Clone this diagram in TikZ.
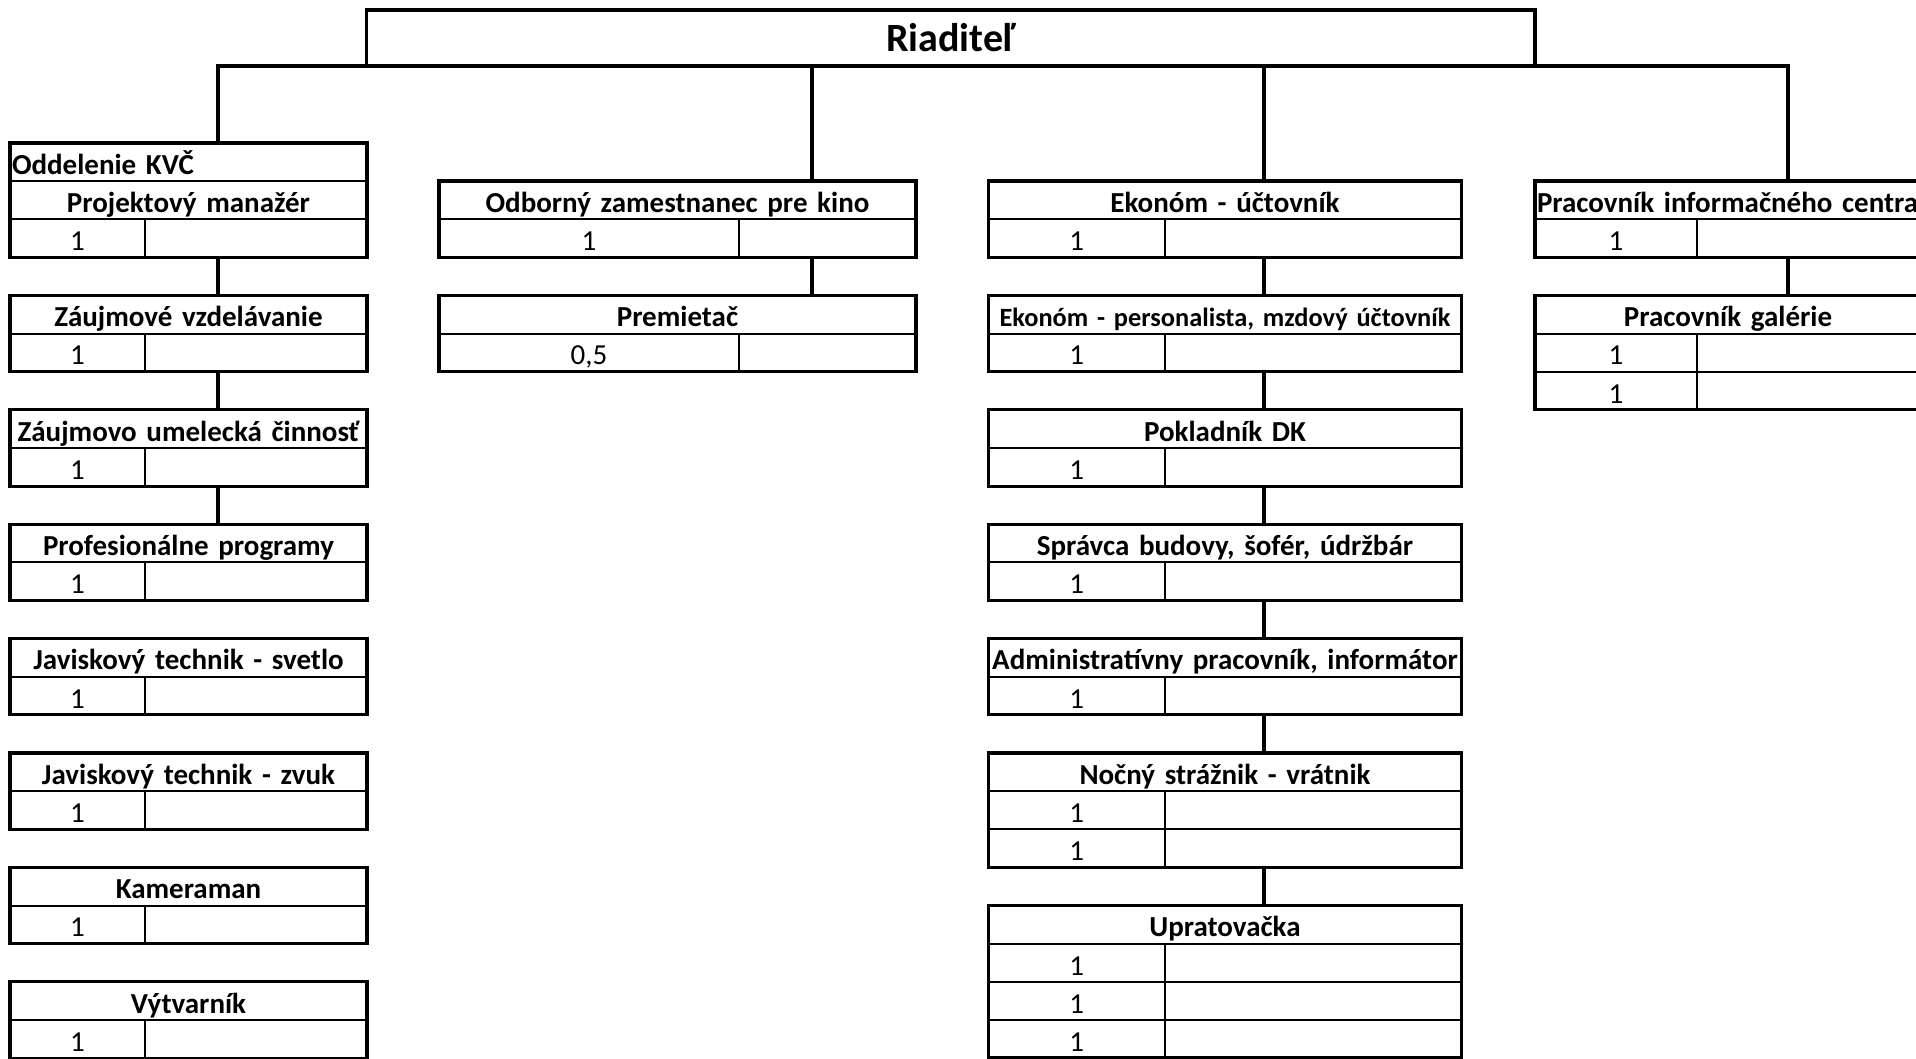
\documentclass[tikz,border=0pt]{standalone}
\usepackage{fontspec}
\setmainfont{Carlito}
\begin{document}
\begin{tikzpicture}
	\useasboundingbox (0,0) rectangle (19.16,-10.58);
	\tikzstyle{cell}=[rectangle, draw=black, line width=0.55pt, anchor=north west, minimum height=0.3813cm, inner sep=0pt, outer sep=0pt, text height=0.7em, text depth=0pt, font=\fontsize{8.25}{10}\selectfont]
	\tikzstyle{head}=[cell, align=center, font=\fontsize{8.25}{10}\selectfont\bfseries]
	\tikzstyle{boss}=[rectangle, draw=black, line width=0.9pt, minimum width=11.684cm, minimum height=0.56cm, inner sep=0pt, outer sep=0pt, text height=0.77em, text depth=0pt, font=\fontsize{11.4}{13}\selectfont\bfseries]
	\tikzstyle{frame}=[line width=0.9pt]
	\tikzstyle{link}=[line width=0.9pt]
	% column widths
	\tikzstyle{head1}=[head, text width=3.57cm]
	\tikzstyle{num1}=[cell, minimum width=1.35cm]
	\tikzstyle{blank1}=[cell, minimum width=2.22cm]
	\tikzstyle{head2}=[head, text width=4.77cm]
	\tikzstyle{num2}=[cell, minimum width=3.00cm]
	\tikzstyle{blank2}=[cell, minimum width=1.77cm]
	\tikzstyle{head3}=[head, text width=4.73cm]
	\tikzstyle{num3}=[cell, minimum width=1.765cm]
	\tikzstyle{blank3}=[cell, minimum width=2.965cm]
	\tikzstyle{head4}=[head, text width=3.86cm]
	\tikzstyle{num4}=[cell, minimum width=1.62cm]
	\tikzstyle{blank4}=[cell, minimum width=2.24cm]

	\coordinate (c1) at (2.18, 0);
	\coordinate (c2) at (8.12, 0);
	\coordinate (c3) at (12.64, 0);
	\coordinate (c4) at (17.88, 0);

	\node[boss] (dir) at (9.508, -0.38) {Riaditeľ};

	% KVC
	\node[head1, align=left, text width=3.53cm, inner xsep=0.02cm] (kvc) at (0.10, -1.429) {Oddelenie KVČ};
	\node[head1] (pm) at (kvc.south west) {Projektový manažér};
	\node[num1] (pm1) at (pm.south west) {1};
	\node[blank1] (pm2) at (pm1.north east) {};
	\draw[frame] (kvc.north west) rectangle (pm2.south east);

	\node[head1] (zv) at (0.10, -2.954) {Záujmové vzdelávanie};
	\node[num1] (zv1) at (zv.south west) {1};
	\node[blank1] (zv2) at (zv1.north east) {};
	\draw[frame] (zv.north west) rectangle (zv2.south east);

	\node[head1] (zuc) at (0.10, -4.098) {Záujmovo umelecká činnosť};
	\node[num1] (zuc1) at (zuc.south west) {1};
	\node[blank1] (zuc2) at (zuc1.north east) {};
	\draw[frame] (zuc.north west) rectangle (zuc2.south east);

	\node[head1] (pp) at (0.10, -5.242) {Profesionálne programy};
	\node[num1] (pp1) at (pp.south west) {1};
	\node[blank1] (pp2) at (pp1.north east) {};
	\draw[frame] (pp.north west) rectangle (pp2.south east);

	\node[head1] (svetlo) at (0.10, -6.386) {Javiskový technik - svetlo};
	\node[num1] (svetlo1) at (svetlo.south west) {1};
	\node[blank1] (svetlo2) at (svetlo1.north east) {};
	\draw[frame] (svetlo.north west) rectangle (svetlo2.south east);

	\node[head1] (zvuk) at (0.10, -7.530) {Javiskový technik - zvuk};
	\node[num1] (zvuk1) at (zvuk.south west) {1};
	\node[blank1] (zvuk2) at (zvuk1.north east) {};
	\draw[frame] (zvuk.north west) rectangle (zvuk2.south east);

	\node[head1] (kam) at (0.10, -8.674) {Kameraman};
	\node[num1] (kam1) at (kam.south west) {1};
	\node[blank1] (kam2) at (kam1.north east) {};
	\draw[frame] (kam.north west) rectangle (kam2.south east);

	\node[head1] (vyt) at (0.10, -9.818) {Výtvarník};
	\node[num1] (vyt1) at (vyt.south west) {1};
	\node[blank1] (vyt2) at (vyt1.north east) {};
	\draw[frame] (vyt.north west) rectangle (vyt2.south east);

	% kino
	\node[head2] (kino) at (4.39, -1.810) {Odborný zamestnanec pre kino};
	\node[num2] (kino1) at (kino.south west) {1};
	\node[blank2] (kino2) at (kino1.north east) {};
	\draw[frame] (kino.north west) rectangle (kino2.south east);

	\node[head2] (prem) at (4.39, -2.954) {Premietač};
	\node[num2] (prem1) at (prem.south west) {0,5};
	\node[blank2] (prem2) at (prem1.north east) {};
	\draw[frame] (prem.north west) rectangle (prem2.south east);

	% ekonomika a prevadzka
	\node[head3] (uct) at (9.885, -1.810) {Ekonóm - účtovník};
	\node[num3] (uct1) at (uct.south west) {1};
	\node[blank3] (uct2) at (uct1.north east) {};
	\draw[frame] (uct.north west) rectangle (uct2.south east);

	\node[head3, font=\fontsize{7.5}{9}\selectfont\bfseries] (mzd) at (9.885, -2.954) {Ekonóm - personalista, mzdový účtovník};
	\node[num3] (mzd1) at (mzd.south west) {1};
	\node[blank3] (mzd2) at (mzd1.north east) {};
	\draw[frame] (mzd.north west) rectangle (mzd2.south east);

	\node[head3] (pokl) at (9.885, -4.098) {Pokladník DK};
	\node[num3] (pokl1) at (pokl.south west) {1};
	\node[blank3] (pokl2) at (pokl1.north east) {};
	\draw[frame] (pokl.north west) rectangle (pokl2.south east);

	\node[head3] (sprav) at (9.885, -5.242) {Správca budovy, šofér, údržbár};
	\node[num3] (sprav1) at (sprav.south west) {1};
	\node[blank3] (sprav2) at (sprav1.north east) {};
	\draw[frame] (sprav.north west) rectangle (sprav2.south east);

	\node[head3] (adm) at (9.885, -6.386) {Administratívny pracovník, informátor};
	\node[num3] (adm1) at (adm.south west) {1};
	\node[blank3] (adm2) at (adm1.north east) {};
	\draw[frame] (adm.north west) rectangle (adm2.south east);

	\node[head3] (noc) at (9.885, -7.530) {Nočný strážnik - vrátnik};
	\node[num3] (noc1) at (noc.south west) {1};
	\node[blank3] (noc2) at (noc1.north east) {};
	\node[num3] (noc3) at (noc1.south west) {1};
	\node[blank3] (noc4) at (noc3.north east) {};
	\draw[frame] (noc.north west) rectangle (noc4.south east);

	\node[head3] (upr) at (9.885, -9.055) {Upratovačka};
	\node[num3] (upr1) at (upr.south west) {1};
	\node[blank3] (upr2) at (upr1.north east) {};
	\node[num3] (upr3) at (upr1.south west) {1};
	\node[blank3] (upr4) at (upr3.north east) {};
	\node[num3] (upr5) at (upr3.south west) {1};
	\node[blank3] (upr6) at (upr5.north east) {};
	\draw[frame] (upr.north west) rectangle (upr6.south east);

	% informacne centrum, galeria
	\node[head4, align=left, text width=3.82cm, inner xsep=0.02cm] (info) at (15.35, -1.810) {Pracovník informačného centra};
	\node[num4] (info1) at (info.south west) {1};
	\node[blank4] (info2) at (info1.north east) {};
	\draw[frame] (info.north west) rectangle (info2.south east);

	\node[head4] (gal) at (15.35, -2.954) {Pracovník galérie};
	\node[num4] (gal1) at (gal.south west) {1};
	\node[blank4] (gal2) at (gal1.north east) {};
	\node[num4] (gal3) at (gal1.south west) {1};
	\node[blank4] (gal4) at (gal3.north east) {};
	\draw[frame] (gal.north west) rectangle (gal4.south east);

	% lines
	\draw[link] (kvc.north -| c1) |- (dir.south -| c4) -- (info.north -| c4);
	\draw[link] (dir.south -| c2) -- (kino.north -| c2);
	\draw[link] (dir.south -| c3) -- (uct.north -| c3);

	\draw[link] (pm2.south -| c1) -- (zv.north -| c1);
	\draw[link] (zv2.south -| c1) -- (zuc.north -| c1);
	\draw[link] (zuc2.south -| c1) -- (pp.north -| c1);

	\draw[link] (kino2.south -| c2) -- (prem.north -| c2);

	\draw[link] (uct2.south -| c3) -- (mzd.north -| c3);
	\draw[link] (mzd2.south -| c3) -- (pokl.north -| c3);
	\draw[link] (pokl2.south -| c3) -- (sprav.north -| c3);
	\draw[link] (sprav2.south -| c3) -- (adm.north -| c3);
	\draw[link] (adm2.south -| c3) -- (noc.north -| c3);
	\draw[link] (noc4.south -| c3) -- (upr.north -| c3);

	\draw[link] (info2.south -| c4) -- (gal.north -| c4);
\end{tikzpicture}
\end{document}
